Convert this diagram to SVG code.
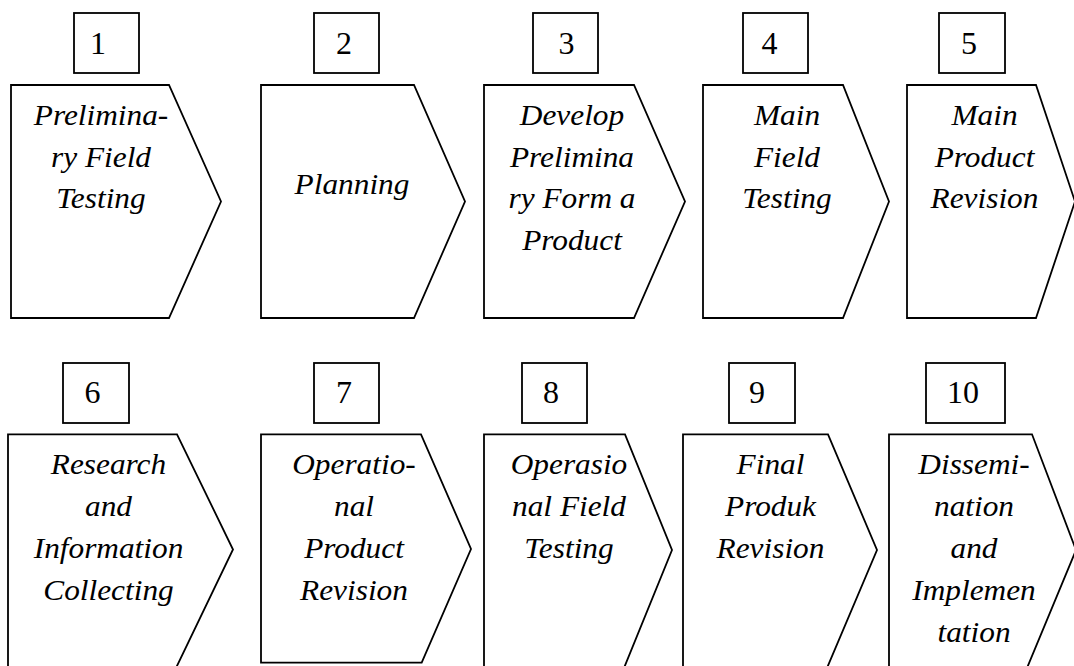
<svg xmlns="http://www.w3.org/2000/svg" width="1074" height="666" viewBox="0 0 1074 666">
<style>
.shape{fill:#ffffff;stroke:#000;stroke-width:1.8;stroke-linejoin:miter}
.num{fill:#ffffff;stroke:#000;stroke-width:1.8}
.nt{font-family:'Liberation Serif','Times New Roman',Times,serif;font-size:32px;fill:#000;text-anchor:middle}
.lb{font-family:'Liberation Serif','Times New Roman',Times,serif;font-style:italic;font-size:29px;fill:#000;text-anchor:middle}
</style>
<rect width="1074" height="666" fill="#ffffff"/>
<g id="connectors"></g>

<g id="node1">
<rect class="num" x="74" y="13" width="65" height="60"/>
<text class="nt" font-family="Liberation Serif" x="98" y="53.5">1</text>
<polygon class="shape" points="11,85 169,85 221,201.5 169,318 11,318"/>
<g transform="translate(101,0) scale(1.08,1)" font-family="Liberation Serif">
<text class="lb" x="0" y="125">Prelimina-</text>
<text class="lb" x="0" y="166.7">ry Field</text>
<text class="lb" x="0" y="208.3">Testing</text>
</g>
</g>

<g id="node2">
<rect class="num" x="314" y="13" width="65" height="60"/>
<text class="nt" x="344" y="53.5">2</text>
<polygon class="shape" points="261,85 414,85 465,201.5 414,318 261,318"/>
<g transform="translate(352,0) scale(1.08,1)">
<text class="lb" x="0" y="194.3">Planning</text>
</g>
</g>

<g id="node3">
<rect class="num" x="533" y="13" width="65" height="60"/>
<text class="nt" x="566.5" y="53.5">3</text>
<polygon class="shape" points="484,85 634,85 685,201.5 634,318 484,318"/>
<g transform="translate(572,0) scale(1.08,1)">
<text class="lb" x="0" y="125">Develop</text>
<text class="lb" x="0" y="166.7">Prelimina</text>
<text class="lb" x="0" y="208.3">ry Form a</text>
<text class="lb" x="0" y="250">Product</text>
</g>
</g>

<g id="node4">
<rect class="num" x="743" y="13" width="65" height="60"/>
<text class="nt" x="769.5" y="53.5">4</text>
<polygon class="shape" points="703,85 843,85 889,201.5 843,318 703,318"/>
<g transform="translate(787,0) scale(1.08,1)">
<text class="lb" x="0" y="125">Main</text>
<text class="lb" x="0" y="166.7">Field</text>
<text class="lb" x="0" y="208.3">Testing</text>
</g>
</g>

<g id="node5">
<rect class="num" x="939" y="13" width="66" height="60"/>
<text class="nt" x="969" y="53.5">5</text>
<polygon class="shape" points="907,85 1036,85 1075,201.5 1036,318 907,318"/>
<g transform="translate(984.5,0) scale(1.08,1)">
<text class="lb" x="0" y="125">Main</text>
<text class="lb" x="0" y="166.7">Product</text>
<text class="lb" x="0" y="208.3">Revision</text>
</g>
</g>

<g id="node6">
<rect class="num" x="63" y="363" width="66" height="60"/>
<text class="nt" x="92.5" y="403.3">6</text>
<polygon class="shape" points="8,434.3 177,434.3 233,549.5 176,668 8,668"/>
<g transform="translate(108.5,0) scale(1.08,1)">
<text class="lb" x="0" y="474.5">Research</text>
<text class="lb" x="0" y="516.5">and</text>
<text class="lb" x="0" y="558.5">Information</text>
<text class="lb" x="0" y="600.5">Collecting</text>
</g>
</g>

<g id="node7">
<rect class="num" x="314" y="363" width="65" height="60"/>
<text class="nt" x="344" y="403.3">7</text>
<polygon class="shape" points="261,434.3 421,434.3 471,549 421.7,662.7 261,662.7"/>
<g transform="translate(354,0) scale(1.08,1)">
<text class="lb" x="0" y="474.5">Operatio-</text>
<text class="lb" x="0" y="516.5">nal</text>
<text class="lb" x="0" y="558.5">Product</text>
<text class="lb" x="0" y="600.5">Revision</text>
</g>
</g>

<g id="node8">
<rect class="num" x="522" y="363" width="65" height="60"/>
<text class="nt" x="551" y="403.3">8</text>
<polygon class="shape" points="484,434.3 625,434.3 672,550 624,668 484,668"/>
<g transform="translate(569,0) scale(1.08,1)">
<text class="lb" x="0" y="474.5">Operasio</text>
<text class="lb" x="0" y="516.5">nal Field</text>
<text class="lb" x="0" y="558.5">Testing</text>
</g>
</g>

<g id="node9">
<rect class="num" x="729" y="363" width="66" height="60"/>
<text class="nt" x="757" y="403.3">9</text>
<polygon class="shape" points="683,434.3 828,434.3 877,550 827,668 683,668"/>
<g transform="translate(770.5,0) scale(1.08,1)">
<text class="lb" x="0" y="474.5">Final</text>
<text class="lb" x="0" y="516.5">Produk</text>
<text class="lb" x="0" y="558.5">Revision</text>
</g>
</g>

<g id="node10">
<rect class="num" x="926" y="363" width="79" height="60"/>
<text class="nt" x="963" y="403.3">10</text>
<polygon class="shape" points="889,434.3 1032,434.3 1076,550 1027,668 889,668"/>
<g transform="translate(974,0) scale(1.08,1)">
<text class="lb" x="0" y="474.5">Dissemi-</text>
<text class="lb" x="0" y="516.5">nation</text>
<text class="lb" x="0" y="558.5">and</text>
<text class="lb" x="0" y="600.5">Implemen</text>
<text class="lb" x="0" y="642.5">tation</text>
</g>
</g>
</svg>
